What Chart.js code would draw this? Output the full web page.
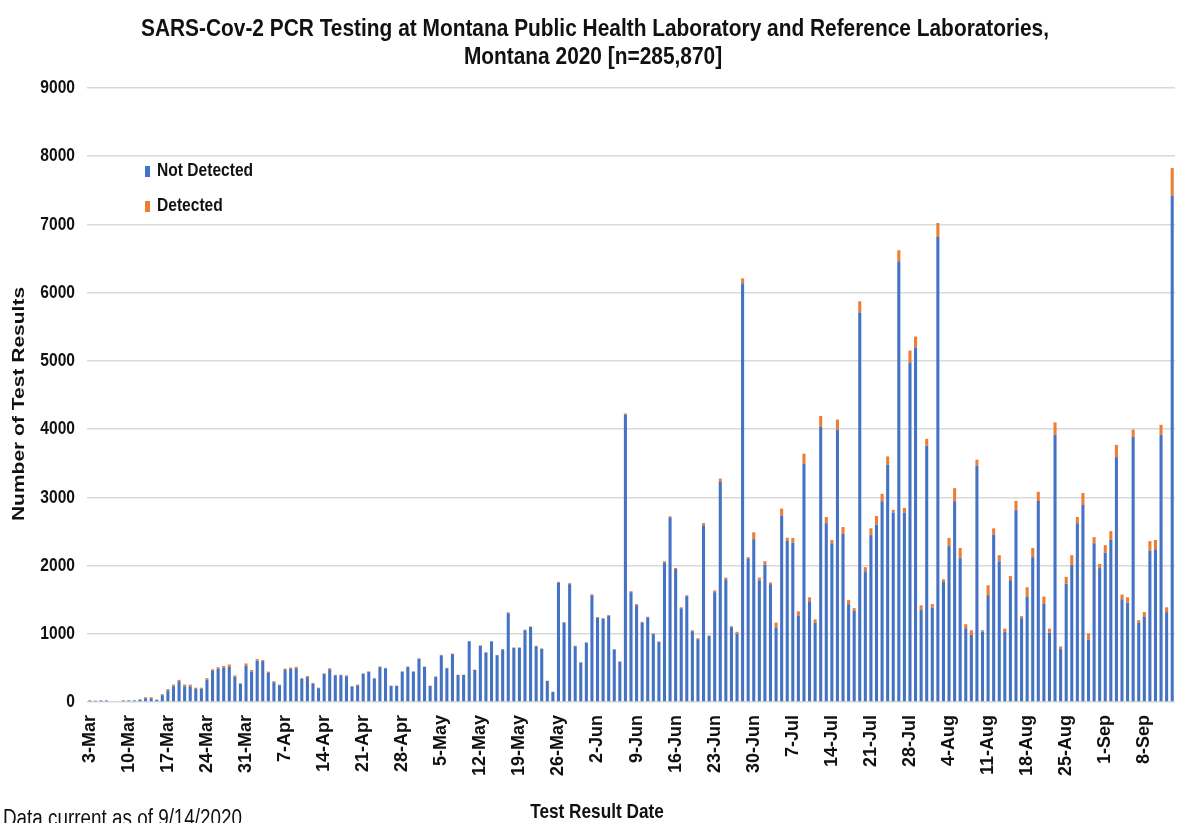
<!DOCTYPE html>
<html>
<head>
<meta charset="utf-8">
<script src="https://cdn.jsdelivr.net/npm/chart.js@4.4.1/dist/chart.umd.min.js"></script>
<style>
  html, body { margin: 0; padding: 0; background: #fff; }
  #wrap { position: relative; width: 1178px; height: 823px; }
</style>
</head>
<body>
<div id="wrap"><canvas id="chart"></canvas></div>
<script>
// The source picture is Arial Bold squeezed sideways; no narrow font here,
// so text is drawn with Liberation Sans and squeezed on the canvas.
const FONT = "'Liberation Sans', Arial, sans-serif";
const SQUEEZE = 0.82;
const TITLE_SQUEEZE = 0.87;

const titleLines = [
  'SARS-Cov-2 PCR Testing at Montana Public Health Laboratory and Reference Laboratories,',
  'Montana 2020 [n=285,870]'
];
const xTitle = 'Test Result Date';
const yTitle = 'Number of Test Results';
const footnote = 'Data current as of 9/14/2020';

// Daily categories: 3-Mar .. 13-Sep 2020
const monthNames = ['Jan','Feb','Mar','Apr','May','Jun','Jul','Aug','Sep','Oct','Nov','Dec'];
const firstDay = new Date(2020, 2, 3);
const dayCount = 195;
const categories = [];
for (let i = 0; i < dayCount; i++) {
  const d = new Date(firstDay.getFullYear(), firstDay.getMonth(), firstDay.getDate() + i);
  categories.push(d.getDate() + '-' + monthNames[d.getMonth()]);
}

// Labels shown on the date axis (weekly)
const tickLabels = ['3-Mar','10-Mar','17-Mar','24-Mar','31-Mar','7-Apr','14-Apr','21-Apr','28-Apr',
  '5-May','12-May','19-May','26-May','2-Jun','9-Jun','16-Jun','23-Jun','30-Jun','7-Jul','14-Jul',
  '21-Jul','28-Jul','4-Aug','11-Aug','18-Aug','25-Aug','1-Sep','8-Sep'];

const notDetected = [
  23,19,23,23,0,0,23,23,23,35, 55,55,30,100,170,230,305,230,230,190,
  195,325,455,490,505,515,370,265,530,445, 605,600,425,290,245,470,485,495,340,365,
  265,202,410,480,390,392,378,225,245,412, 440,345,512,494,235,235,445,512,445,634,
  515,235,370,684,495,702,395,396,889,470, 824,725,887,685,770,1300,792,792,1052,1100,
  817,777,310,148,1747,1166,1727,817,577,870, 1565,1233,1218,1265,768,590,4215,1610,1420,1165,
  1240,995,878,2044,2707,1949,1373,1552,1037,920, 2592,966,1610,3225,1798,1096,999,6139,2103,2387,
  1783,2014,1727,1094,2735,2363,2335,1269,3490,1475, 1161,4032,2621,2326,3990,2464,1434,1336,5709,1916,
  2446,2598,2942,3479,2777,6461,2776,4976,5197,1347, 3757,1385,6816,1759,2285,2944,2108,1081,982,3462,
  1032,1566,2456,2062,1026,1786,2811,1228,1547,2123, 2946,1446,1016,3918,775,1735,2007,2621,2888,915,
  2327,1963,2189,2375,3589,1506,1455,3888,1160,1247, 2213,2240,3918,1318,7426
];
const detected = [
  2,1,2,2,0,0,2,2,2,5, 15,15,5,15,20,25,20,25,25,20,
  15,25,25,20,25,35,20,10,35,25, 25,15,20,15,10,20,20,20,10,15,
  15,8,10,15,10,8,12,10,10,8, 10,5,8,6,5,5,5,8,5,6,
  5,5,5,6,5,8,5,4,6,5, 6,5,8,5,5,15,8,8,8,8,
  8,8,2,2,15,5,15,8,8,5, 15,12,12,10,8,5,15,15,15,10,
  10,10,10,20,15,15,15,12,15,15, 30,10,25,50,25,15,30,70,20,100,
  40,50,25,70,100,45,70,60,150,60, 50,160,90,50,150,100,60,40,165,60,
  100,130,110,120,40,160,70,175,160,70, 100,50,205,40,120,190,150,60,70,90,
  20,145,90,90,50,60,135,30,135,135, 135,100,60,180,40,100,145,90,175,90,
  90,60,110,130,180,70,80,105,40,70, 145,135,145,70,400
];

const yMax = 9000;
const yStep = 1000;

const BLUE = '#4472C4';
const ORANGE = '#ED7D31';
const INK = '#111';

// draws text squeezed sideways, like the source
function squeezedText(ctx, text, x, y, align, sx) {
  ctx.save();
  ctx.translate(x, y);
  ctx.scale(sx || SQUEEZE, 1);
  ctx.textAlign = align;
  ctx.fillText(text, 0, 0);
  ctx.restore();
}

// Title, y tick labels, axis titles, legend and footnote
const decorPlugin = {
  id: 'decor',
  afterDraw(chart) {
    const ctx = chart.ctx;
    ctx.save();
    ctx.fillStyle = INK;
    ctx.textBaseline = 'middle';

    ctx.font = 'bold 24px ' + FONT;
    squeezedText(ctx, titleLines[0], 595, 29, 'center', TITLE_SQUEEZE);
    squeezedText(ctx, titleLines[1], 593, 57, 'center', TITLE_SQUEEZE);

    // y tick labels from the scale itself
    const yScale = chart.scales.y;
    ctx.font = 'bold 19px ' + FONT;
    yScale.ticks.forEach(t => {
      squeezedText(ctx, String(t.value), 75, yScale.getPixelForValue(t.value), 'right');
    });

    // y title, rotated; squeeze its thickness
    ctx.save();
    ctx.translate(19, 404);
    ctx.rotate(-Math.PI / 2);
    ctx.scale(1, SQUEEZE);
    ctx.font = 'bold 21px ' + FONT;
    ctx.textAlign = 'center';
    ctx.fillText(yTitle, 0, 0);
    ctx.restore();

    ctx.font = 'bold 21px ' + FONT;
    squeezedText(ctx, xTitle, 597, 812, 'center');

    // legend inside the plot
    const items = [
      { text: chart.data.datasets[0].label, color: BLUE, y: 171 },
      { text: chart.data.datasets[1].label, color: ORANGE, y: 206 }
    ];
    ctx.font = 'bold 19px ' + FONT;
    items.forEach(it => {
      ctx.fillStyle = it.color;
      ctx.fillRect(145, it.y - 5, 5, 11);
      ctx.fillStyle = INK;
      squeezedText(ctx, it.text, 157, it.y, 'left');
    });

    ctx.font = '23px ' + FONT;
    squeezedText(ctx, footnote, 3, 820, 'left');
    ctx.restore();
  }
};

const ctx = document.getElementById('chart').getContext('2d');
new Chart(ctx, {
  type: 'bar',
  data: {
    labels: categories,
    datasets: [{
      label: 'Not Detected',
      data: notDetected,
      backgroundColor: BLUE,
      barPercentage: 0.55,
      categoryPercentage: 1.0
    }, {
      label: 'Detected',
      data: detected,
      backgroundColor: ORANGE,
      barPercentage: 0.55,
      categoryPercentage: 1.0
    }]
  },
  options: {
    responsive: true,
    maintainAspectRatio: false,
    animation: false,
    layout: { padding: { top: 88, right: 3, bottom: 0, left: 0 } },
    plugins: {
      legend: { display: false },
      tooltip: { enabled: false },
      title: { display: false }
    },
    scales: {
      x: {
        stacked: true,
        grid: { display: false },
        border: { display: false },
        ticks: {
          autoSkip: false,
          minRotation: 90,
          maxRotation: 90,
          padding: 5,
          color: INK,
          font: { family: FONT, size: 18, weight: 'bold' },
          callback: function (value, index) {
            const lab = categories[index];
            return tickLabels.includes(lab) ? lab : '';
          }
        },
        afterFit: function (scale) {
          scale.height = 121;
          scale.paddingLeft = 0;
          scale.paddingRight = 0;
        }
      },
      y: {
        stacked: true,
        min: 0,
        max: yMax,
        grid: { color: '#d9d9d9', lineWidth: 1.5, drawTicks: false },
        border: { display: false },
        ticks: { stepSize: yStep, display: false },
        afterFit: function (scale) {
          scale.width = 87;
          scale.paddingTop = 0;
          scale.paddingBottom = 0;
        }
      }
    }
  },
  plugins: [decorPlugin]
});
</script>
</body>
</html>
